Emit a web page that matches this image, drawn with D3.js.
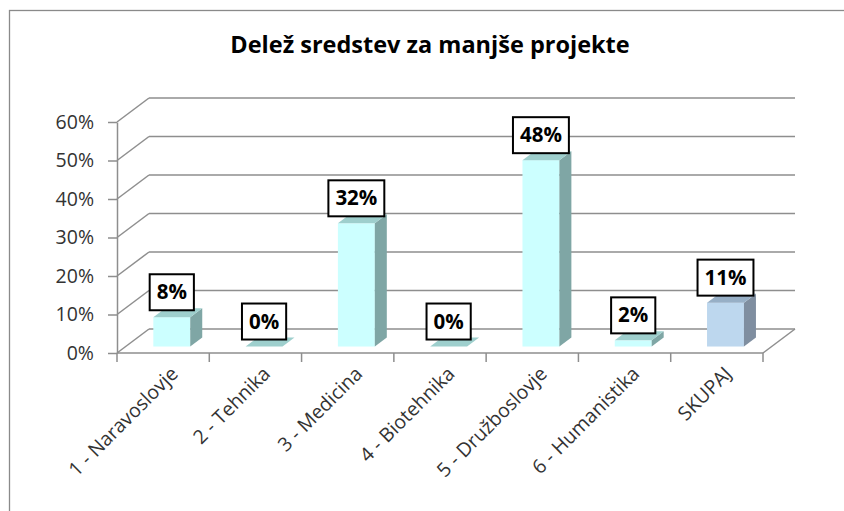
<!DOCTYPE html>
<meta charset="utf-8">
<script src="https://d3js.org/d3.v7.min.js"></script>
<style>
  body { margin: 0; background: #fff; }
  text { font-family: "Open Sans", sans-serif; }
</style>
<div id="chart"></div>
<script>
  // data
  const categories = ["1 - Naravoslovje", "2 - Tehnika", "3 - Medicina", "4 - Biotehnika",
                      "5 - Družboslovje", "6 - Humanistika", "SKUPAJ"];
  const shares = [0.076, 0, 0.32, 0, 0.484, 0.016, 0.114];
  const yTicks = [0, 0.1, 0.2, 0.3, 0.4, 0.5, 0.6];
  const title = "Delež sredstev za manjše projekte";

  const width = 844, height = 511;
  // 3d depth of the floor / walls
  const depthX = 32, depthY = -24;

  const svg = d3.select("#chart")
    .append("svg")
    .attr("width", width)
    .attr("height", height);

  // outer frame (only top + left edges are in view)
  svg.append("rect")
    .attr("x", 9.5).attr("y", 10.5)
    .attr("width", 900).attr("height", 600)
    .attr("fill", "none")
    .attr("stroke", "#8a8a8a")
    .attr("stroke-width", 1.3);

  svg.append("text")
    .attr("x", 430).attr("y", 53)
    .attr("text-anchor", "middle")
    .style("font-size", "23.5px")
    .style("font-weight", "bold")
    .attr("fill", "#000")
    .text(title);

  const x = d3.scaleBand()
    .domain(categories)
    .range([117, 763]);

  const y = d3.scaleLinear()
    .domain([0, 0.6])
    .range([353, 122]);

  const gridColor = "#8e8e8e";
  const grid = svg.append("g")
    .attr("stroke", gridColor)
    .attr("stroke-width", 1.5)
    .attr("fill", "none");

  // side wall diagonals + back wall lines
  grid.selectAll(".side")
    .data(yTicks)
    .join("line")
    .attr("x1", x.range()[0]).attr("y1", d => y(d))
    .attr("x2", x.range()[0] + depthX).attr("y2", d => y(d) + depthY);

  grid.selectAll(".back")
    .data(yTicks)
    .join("line")
    .attr("x1", x.range()[0] + depthX).attr("y1", d => y(d) + depthY)
    .attr("x2", x.range()[1] + depthX).attr("y2", d => y(d) + depthY);

  // floor front + right edge
  grid.append("line")
    .attr("x1", x.range()[0]).attr("y1", y(0))
    .attr("x2", x.range()[1]).attr("y2", y(0));
  grid.append("line")
    .attr("x1", x.range()[1]).attr("y1", y(0))
    .attr("x2", x.range()[1] + depthX).attr("y2", y(0) + depthY);

  // category ticks at band edges
  const edges = categories.map(c => x(c)).concat([x.range()[1]]);
  grid.selectAll(".xtick")
    .data(edges)
    .join("line")
    .attr("x1", d => d).attr("x2", d => d)
    .attr("y1", y(0)).attr("y2", y(0) + 9);

  // value axis
  const yAxis = svg.append("g")
    .attr("transform", `translate(${x.range()[0]},0)`)
    .call(d3.axisLeft(y).tickValues(yTicks).tickFormat(d3.format(".0%"))
      .tickSize(9).tickSizeOuter(0).tickPadding(14));
  yAxis.selectAll("path, line")
    .attr("stroke", gridColor)
    .attr("stroke-width", 1.5);
  yAxis.selectAll("text")
    .style("font-size", "19.5px")
    .style("font-family", "Open Sans")
    .attr("fill", "#333");

  // category labels
  const xAxis = svg.append("g")
    .attr("transform", `translate(0,${y(0)})`)
    .call(d3.axisBottom(x).tickSize(0).tickPadding(0));
  xAxis.select(".domain").remove();
  xAxis.selectAll("text")
    .style("font-size", "19.5px")
    .style("font-family", "Open Sans")
    .attr("fill", "#333")
    .attr("text-anchor", "end")
    .attr("dy", null)
    .attr("transform", "translate(16,22) rotate(-45)");

  // bars
  const frontX = depthX * 0.27, frontY = depthY * 0.27;
  const barDX = depthX * 0.375, barDY = depthY * 0.375;
  const barW = x.bandwidth() * 0.4;

  const colors = i => i === categories.length - 1
    ? { front: "#bdd7ee", side: "#7f8ea0", top: "#97afc6" }
    : { front: "#ccffff", side: "#7fa6a5", top: "#9ecfcd" };

  const bars = svg.append("g")
    .selectAll("g")
    .data(categories.map((c, i) => ({ c, v: shares[i], i })))
    .join("g");

  bars.each(function (d) {
    const g = d3.select(this);
    const col = colors(d.i);
    const cx = x(d.c) + x.bandwidth() / 2 + frontX;
    const xl = cx - barW / 2, xr = cx + barW / 2;
    const y0 = y(0) + frontY, yt = y(d.v) + frontY;
    d.cx = cx; d.yt = yt;

    g.append("rect")
      .attr("x", xl).attr("y", yt)
      .attr("width", barW).attr("height", y0 - yt)
      .attr("fill", col.front);
    g.append("polygon")
      .attr("points", [[xr, yt], [xr + barDX, yt + barDY], [xr + barDX, y0 + barDY], [xr, y0]].join(" "))
      .attr("fill", col.side);
    g.append("polygon")
      .attr("points", [[xl, yt], [xl + barDX, yt + barDY], [xr + barDX, yt + barDY], [xr, yt]].join(" "))
      .attr("fill", col.top);
  });

  // value labels in boxes
  const fmt = d3.format(".0%");
  const labels = svg.append("g")
    .selectAll("g")
    .data(bars.data())
    .join("g");

  labels.each(function (d) {
    const g = d3.select(this);
    const t = g.append("text")
      .attr("x", d.cx)
      .attr("y", d.yt - 18)
      .attr("text-anchor", "middle")
      .style("font-size", "20.5px")
      .style("font-weight", "bold")
      .attr("fill", "#000")
      .text(fmt(d.v));
    const w = t.node().getComputedTextLength() + 14;
    g.insert("rect", "text")
      .attr("x", d.cx - w / 2)
      .attr("y", d.yt - 43)
      .attr("width", w)
      .attr("height", 36)
      .attr("fill", "#fff")
      .attr("stroke", "#000")
      .attr("stroke-width", 2);
  });
</script>
